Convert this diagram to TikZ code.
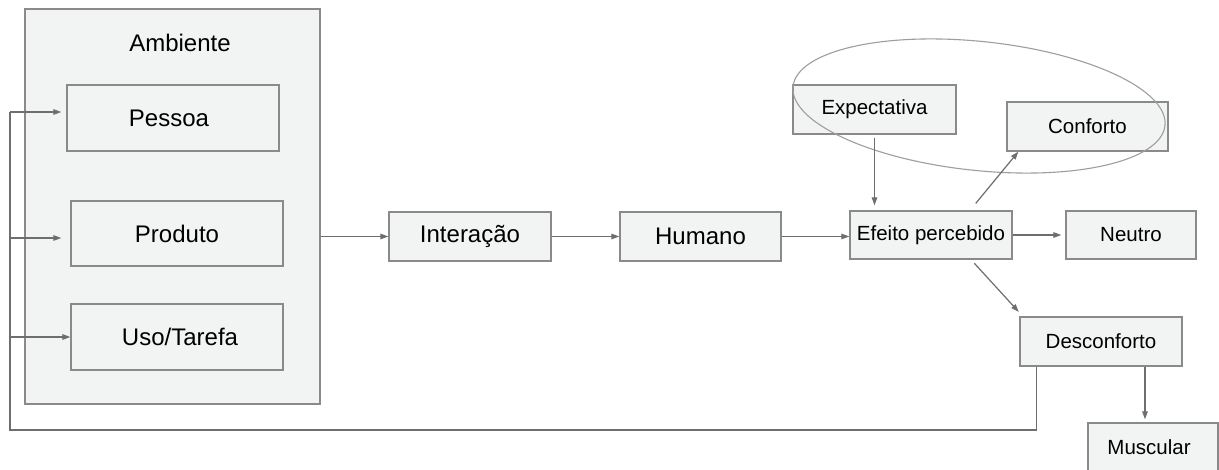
\documentclass[tikz,border=0pt]{standalone}
\usepackage{fontspec}
\setmainfont{Liberation Sans}
\usetikzlibrary{arrows.meta,calc}
\definecolor{boxfill}{HTML}{F2F3F3}
\definecolor{boxline}{HTML}{8A8A8A}
\definecolor{wire}{HTML}{6E6E6E}
\definecolor{ringline}{HTML}{9E9E9E}
% lowered label text inside a box
\newcommand{\lowtext}[2][3pt]{\raisebox{-#1}{#2}}
\tikzset{
  bigbox/.style={draw=boxline, fill=boxfill, line width=1.3pt, inner sep=0pt,
    font=\fontsize{24}{28}\selectfont},
  smallbox/.style={draw=boxline, fill=boxfill, line width=1.3pt, inner sep=0pt,
    font=\fontsize{20.5}{24}\selectfont},
  link/.style={draw=wire, line width=1.2pt, -{Triangle[length=8pt,width=5.5pt]}},
  plainlink/.style={draw=wire, line width=1.2pt},
}
\begin{document}
\begin{tikzpicture}[x=1pt,y=-1pt]
\clip (0,0) rectangle (1219,470);
\fill[white] (0,0) rectangle (1219,470);

% environment block
\node[bigbox, minimum width=295pt, minimum height=395pt] (amb) at (172.5,206.5) {};
\node[font=\fontsize{24}{28}\selectfont] (ambtitle) at (180,43) {Ambiente};
\node[bigbox, minimum width=212pt, minimum height=66pt] (pessoa) at (173,118) {\lowtext{\hspace*{-8pt}Pessoa}};
\node[bigbox, minimum width=212pt, minimum height=65pt] (produto) at (177,233.5) {\lowtext[4pt]{Produto}};
\node[bigbox, minimum width=212pt, minimum height=66pt] (uso) at (177,337) {\lowtext[4pt]{\hspace*{6pt}Uso/Tarefa}};

% main chain
\node[bigbox, minimum width=162pt, minimum height=49pt] (inter) at (470,236.5) {Interação};
\node[bigbox, minimum width=161pt, minimum height=49pt] (humano) at (700.5,236.5) {Humano};
\node[smallbox, minimum width=162pt, minimum height=48pt] (efeito) at (931,235) {Efeito percebido};
\node[smallbox, minimum width=130pt, minimum height=48pt] (neutro) at (1131,235) {Neutro};
\node[smallbox, minimum width=163pt, minimum height=49pt] (expect) at (874.5,109.5) {\lowtext[2pt]{Expectativa}};
\node[smallbox, minimum width=161pt, minimum height=49pt] (conforto) at (1087.5,126.5) {Conforto};
\node[smallbox, minimum width=162pt, minimum height=49pt] (descon) at (1101,341.5) {Desconforto};
\node[smallbox, minimum width=130pt, minimum height=49pt] (muscular) at (1153,447.5) {\hspace*{-8pt}Muscular};

% grouping ring
\draw[ringline, line width=1.1pt, rotate around={-6:(979,106)}] (979,106) ellipse (187pt and 64.5pt);

% connectors
\draw[link] (amb.east |- inter.west) -- (inter.west);
\draw[link] (inter.east) -- (humano.west);
\draw[link] (humano.east) -- (humano.east -| efeito.west);
\draw[link, shorten >=4pt] (efeito.east) -- (neutro.west);
\draw[link, shorten <=3pt, shorten >=5pt] (expect.south) -- (expect.south |- efeito.north);
\draw[link, shorten <=9pt] ([xshift=39pt]efeito.north) -- ([xshift=12pt]conforto.south west);
\draw[link, shorten <=5pt, shorten >=6pt] ([xshift=40pt]efeito.south) -- ([xshift=3.5pt]descon.north west);
\draw[link, shorten >=3pt] ([xshift=44pt]descon.south) -- ([xshift=44pt]descon.south |- muscular.north);

% feedback loop back into the environment
\coordinate (fbdown) at ([xshift=17pt]descon.south west);
\coordinate (fbcorner) at (fbdown |- 0,430);
\coordinate (fbleft) at (10,430);
\coordinate (fbtop) at (10,112);
\draw[plainlink] (fbdown) -- (fbcorner) -- (fbleft) -- (fbtop);
\draw[link, shorten >=5pt] (fbtop) -- ([yshift=6pt]pessoa.west);
\draw[link, shorten >=9pt] (fbleft |- 0,238) -- ([yshift=-4.5pt]produto.west);
\draw[link] (fbleft |- uso.west) -- (uso.west);
\end{tikzpicture}
\end{document}
